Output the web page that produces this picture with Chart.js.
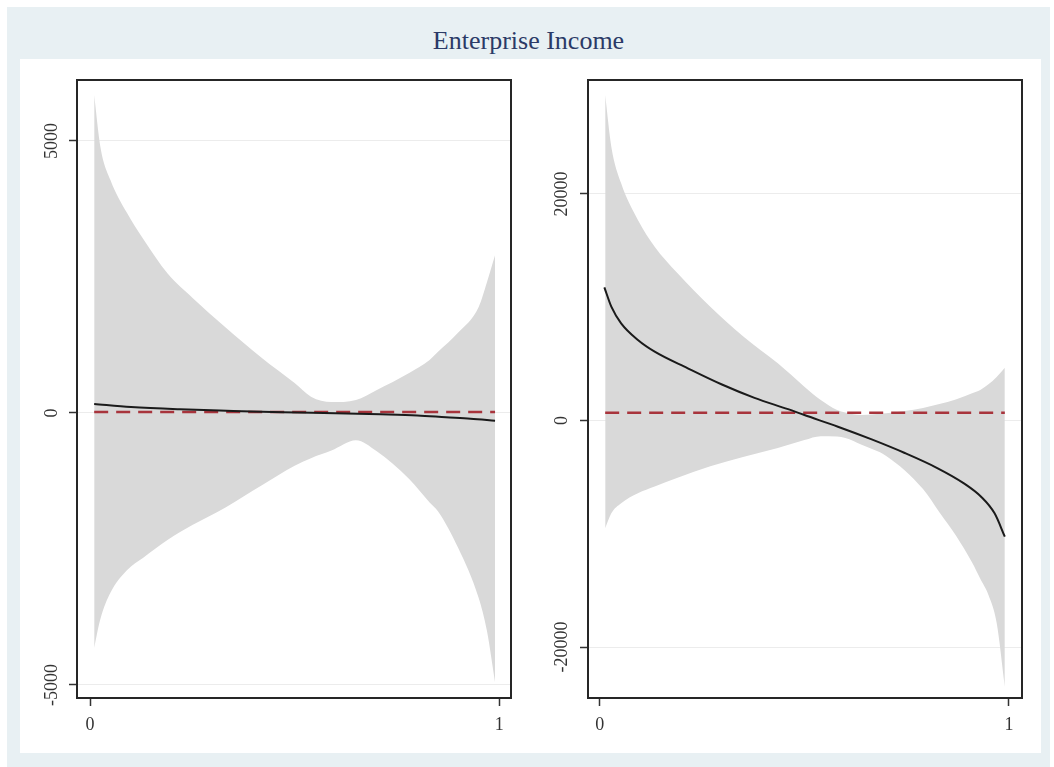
<!DOCTYPE html>
<html>
<head>
<meta charset="utf-8">
<script src="https://cdn.jsdelivr.net/npm/chart.js@4.4.1/dist/chart.umd.min.js"></script>
<style>
  body { margin: 0; width: 1054px; height: 767px; background: #fff; position: relative; overflow: hidden; font-family: 'Liberation Serif', serif; }
  #back { position: absolute; left: 7px; top: 7px; width: 1043px; height: 760px; background: #e8f0f3; }
  #title { position: absolute; left: 7px; top: 26px; width: 1043px; text-align: center; font-size: 26px; color: #2b3a67; }
  #panel { position: absolute; left: 20px; top: 59px; width: 1021px; height: 694px; background: #fff; }
  canvas { position: absolute; top: 59px; }
  #left { left: 20px; }
  #right { left: 530px; }
</style>
</head>
<body>
<div id="back"></div>
<div id="title">Enterprise Income</div>
<div id="panel"></div>
<canvas id="left" width="510" height="694"></canvas>
<canvas id="right" width="511" height="694"></canvas>
<script>
// left panel: confidence band, estimate, mean (dashed)
const leftBandX = [0.01, 0.025, 0.05, 0.09, 0.13, 0.19, 0.25, 0.33, 0.42, 0.5, 0.54, 0.59, 0.65, 0.7, 0.78, 0.83, 0.85, 0.9, 0.95, 0.97, 0.99];
const leftUpper = [5846, 4900, 4280, 3680, 3200, 2560, 2120, 1580, 1010, 550, 300, 200, 240, 420, 735, 975, 1120, 1480, 1950, 2400, 2900];
const leftLower = [-4320, -3790, -3300, -2890, -2660, -2330, -2060, -1740, -1330, -970, -830, -690, -500, -700, -1215, -1645, -1800, -2480, -3400, -4000, -4950];
const leftLineX = [0.01, 0.1, 0.22, 0.35, 0.47, 0.6, 0.71, 0.8, 0.87, 0.93, 0.99];
const leftLine = [165, 110, 68, 38, 13, -5, -24, -45, -78, -105, -141];
const leftRefX = [0.01, 0.99];
const leftRef = [20, 20];
const leftTicks = [-5000, 0, 5000];

// right panel
const rightBandX = [0.013, 0.028, 0.052, 0.093, 0.134, 0.19, 0.27, 0.35, 0.435, 0.5, 0.54, 0.58, 0.62, 0.64, 0.7, 0.79, 0.83, 0.87, 0.91, 0.93, 0.95, 0.97, 0.99];
const rightUpper = [28740, 24180, 20940, 17700, 15350, 13000, 10050, 7450, 5050, 2990, 1810, 930, 560, 490, 630, 1100, 1450, 1850, 2400, 2700, 3200, 3850, 4650];
const rightLower = [-9520, -8200, -7310, -6430, -5830, -5050, -4040, -3220, -2430, -1720, -1380, -1420, -1800, -2150, -3130, -6050, -8100, -10130, -12540, -13970, -15400, -17850, -23500];
const rightLineX = [0.011, 0.028, 0.052, 0.093, 0.134, 0.215, 0.297, 0.378, 0.46, 0.5, 0.582, 0.663, 0.744, 0.826, 0.89, 0.932, 0.965, 0.99];
const rightLine = [11760, 10050, 8580, 7110, 6080, 4610, 3200, 2000, 1000, 480, -550, -1650, -2850, -4220, -5550, -6730, -8200, -10260];
const rightRefX = [0.013, 0.99];
const rightRef = [690, 690];
const rightTicks = [-20000, 0, 20000];

const xTicks = [0, 1];

const pts = (xs, ys) => xs.map((x, i) => ({ x: x, y: ys[i] }));

// box round the plot region
const frameBox = {
  id: 'frameBox',
  afterDatasetsDraw(chart) {
    const { ctx, chartArea: a } = chart;
    ctx.save();
    ctx.strokeStyle = '#262626';
    ctx.lineWidth = 2;
    ctx.strokeRect(a.left, a.top, a.right - a.left, a.bottom - a.top);
    ctx.restore();
  }
};

function drawPanel(id, p) {
  new Chart(document.getElementById(id), {
    type: 'line',
    data: {
      datasets: [
        {
          data: pts(p.lineX, p.line),
          borderColor: '#1a1a1a',
          borderWidth: 2,
          pointRadius: 0,
          cubicInterpolationMode: 'monotone',
          fill: false,
          order: 1
        },
        {
          data: pts(p.refX, p.ref),
          borderColor: '#a8343c',
          borderWidth: 2.5,
          borderDash: [14, 8],
          pointRadius: 0,
          fill: false,
          order: 2
        },
        {
          data: pts(p.bandX, p.upper),
          borderWidth: 0,
          borderColor: 'rgba(0,0,0,0)',
          backgroundColor: '#d9d9d9',
          pointRadius: 0,
          cubicInterpolationMode: 'monotone',
          fill: '+1',
          order: 3
        },
        {
          data: pts(p.bandX, p.lower),
          borderWidth: 0,
          borderColor: 'rgba(0,0,0,0)',
          pointRadius: 0,
          cubicInterpolationMode: 'monotone',
          fill: false,
          order: 4
        }
      ]
    },
    options: {
      responsive: false,
      animation: false,
      layout: { padding: { left: 0, top: 21, right: 19, bottom: 0 } },
      plugins: { legend: { display: false }, tooltip: { enabled: false } },
      scales: {
        x: {
          type: 'linear',
          min: p.xmin,
          max: p.xmax,
          border: { display: false },
          grid: { drawOnChartArea: false, tickLength: 8, tickColor: '#333', tickWidth: 1.5 },
          afterBuildTicks: s => { s.ticks = xTicks.map(v => ({ value: v })); },
          afterFit: s => { s.height = 55; },
          ticks: {
            autoSkip: false,
            padding: 8,
            color: '#333',
            font: { family: 'Liberation Serif', size: 18 },
            callback: v => String(v)
          }
        },
        y: {
          min: p.ymin,
          max: p.ymax,
          border: { display: false },
          grid: { color: '#ececec', lineWidth: 1, tickLength: 8, tickColor: '#333', tickWidth: 1.5 },
          afterBuildTicks: s => { s.ticks = p.ticks.map(v => ({ value: v })); },
          afterFit: s => { s.width = p.axisWidth; },
          ticks: {
            autoSkip: false,
            minRotation: 90,
            maxRotation: 90,
            crossAlign: 'center',
            padding: p.tickPad,
            color: '#333',
            font: { family: 'Liberation Serif', size: 18 },
            callback: v => String(v)
          }
        }
      }
    },
    plugins: [frameBox]
  });
}

drawPanel('left', {
  bandX: leftBandX, upper: leftUpper, lower: leftLower,
  lineX: leftLineX, line: leftLine, refX: leftRefX, ref: leftRef,
  ticks: leftTicks, xmin: -0.032, xmax: 1.029, ymin: -5239, ymax: 6121,
  axisWidth: 57, tickPad: -4
});

drawPanel('right', {
  bandX: rightBandX, upper: rightUpper, lower: rightLower,
  lineX: rightLineX, line: rightLine, refX: rightRefX, ref: rightRef,
  ticks: rightTicks, xmin: -0.029, xmax: 1.032, ymin: -24503, ymax: 30066,
  axisWidth: 58, tickPad: -8
});
</script>
</body>
</html>
